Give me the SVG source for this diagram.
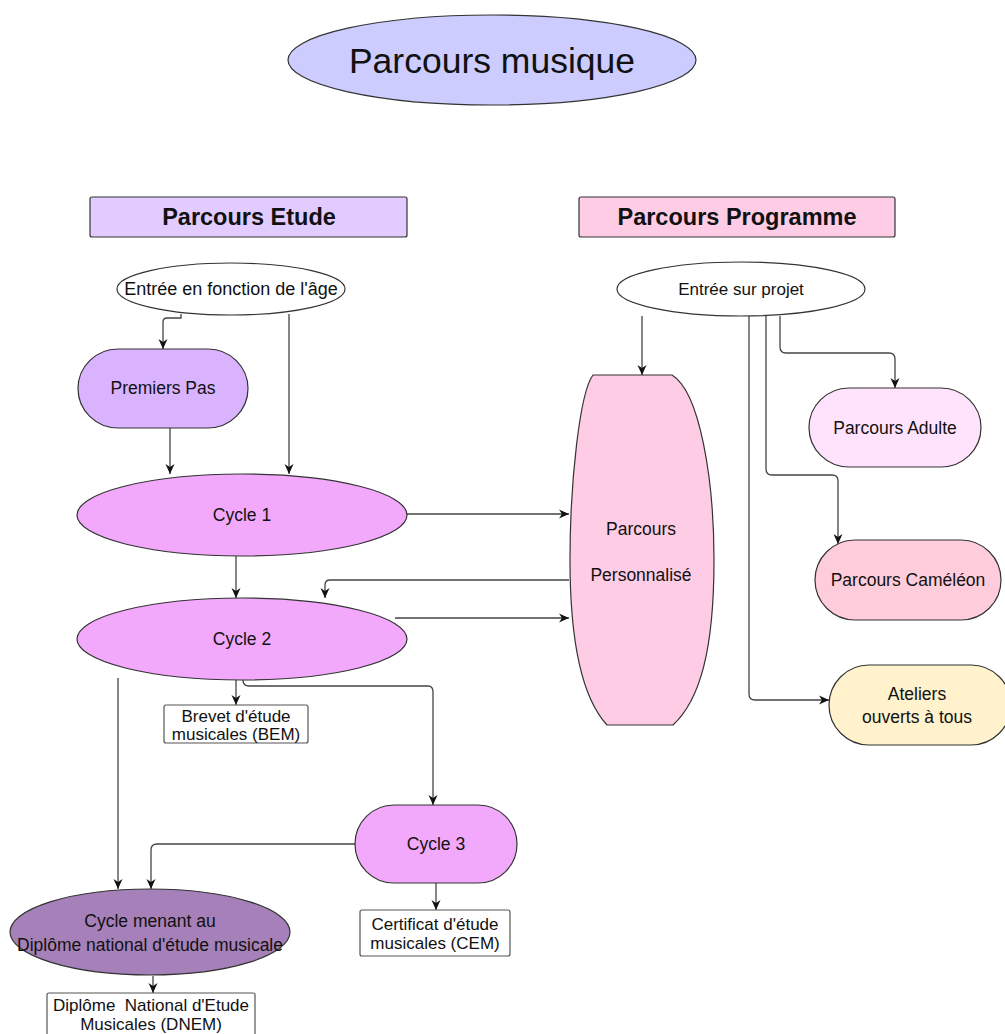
<svg xmlns="http://www.w3.org/2000/svg" width="1005" height="1034" viewBox="0 0 1005 1034">
<defs>
<marker id="ah" viewBox="0 0 10 10" refX="10" refY="5" markerWidth="10" markerHeight="10" markerUnits="userSpaceOnUse" orient="auto">
<path d="M0,0.5 L10,5 L0,9.5 L3,5 Z" fill="#111"/>
</marker>
<style>
text{font-family:"Liberation Sans",Arial,sans-serif;fill:#111;text-anchor:middle}
.n{stroke:#333;stroke-width:1.2}
.l{font-size:17.5px}
.s{font-size:17px}
.e{font-size:18px}
.h{font-size:23.5px;font-weight:bold}
.c{fill:none;stroke:#444;stroke-width:1.3;marker-end:url(#ah)}
.cyc{fill:#f2a9fc}
.box{fill:#fff;stroke:#555;stroke-width:1.2}
</style>
</defs>
<rect width="1005" height="1034" fill="#fff"/>

<g id="connectors">
<path class="c" d="M181,314 V318 H167 Q163,318 163,322 V349"/>
<path class="c" d="M289,314 V474"/>
<path class="c" d="M170,428 V474"/>
<path class="c" d="M236,556 V598"/>
<path class="c" d="M407,514 H569"/>
<path class="c" d="M569,580 H330 Q325,580 325,585 V598"/>
<path class="c" d="M395,618 H569"/>
<path class="c" d="M236,680 V705"/>
<path class="c" d="M243,680 Q243,686 249,686 H428 Q433,686 433,692 V805"/>
<path class="c" d="M118,678 V889"/>
<path class="c" d="M355,844 H157 Q151,844 151,850 V889"/>
<path class="c" d="M436,883 V910"/>
<path class="c" d="M153,976 V993"/>
<path class="c" d="M642,316 V375"/>
<path class="c" d="M749,316 V694 Q749,700 755,700 H829"/>
<path class="c" d="M766,316 V469 Q766,475 772,475 H832 Q838,475 838,481 V544"/>
<path class="c" d="M780,316 V347 Q780,353 786,353 H889 Q895,353 895,359 V388"/>
</g>

<g id="title">
<ellipse class="n" cx="492" cy="60" rx="204" ry="45" fill="#ccccff"/>
<text x="492" y="73" font-size="35.5">Parcours musique</text>
</g>

<g id="parcours-etude">
<rect class="n" x="90" y="197" width="317" height="40" rx="2" fill="#e2ccff"/>
<text class="h" x="249" y="225">Parcours Etude</text>
</g>

<g id="parcours-programme">
<rect class="n" x="579" y="197" width="316" height="40" rx="2" fill="#ffcce6"/>
<text class="h" x="737" y="225">Parcours Programme</text>
</g>

<g id="entree-age">
<ellipse class="n" cx="231" cy="289" rx="114" ry="26" fill="#fff"/>
<text class="e" x="231" y="295">Entrée en fonction de l'âge</text>
</g>

<g id="entree-projet">
<ellipse class="n" cx="741" cy="289" rx="124" ry="27" fill="#fff"/>
<text class="s" x="741" y="295">Entrée sur projet</text>
</g>

<g id="premiers-pas">
<rect class="n" x="78" y="349" width="170" height="79" rx="40" fill="#dab3ff"/>
<text class="l" x="163" y="394">Premiers Pas</text>
</g>

<g id="cycle1">
<ellipse class="n cyc" cx="242" cy="515" rx="165" ry="41"/>
<text class="l" x="242" y="521">Cycle 1</text>
</g>

<g id="cycle2">
<ellipse class="n cyc" cx="242" cy="639" rx="165" ry="41"/>
<text class="l" x="242" y="645">Cycle 2</text>
</g>

<g id="parcours-personnalise">
<path class="n" fill="#ffcce6" d="M593,375 L672,375 C700,392 714,480 714,560 C714,650 700,700 673,725 L607,725 C584,700 570,650 570,560 C570,480 580,392 593,375 Z"/>
<text class="l" x="641" y="535">Parcours</text>
<text class="l" x="641" y="581">Personnalisé</text>
</g>

<g id="parcours-adulte">
<rect class="n" x="809" y="388" width="172" height="79" rx="40" fill="#ffe3fc"/>
<text class="l" x="895" y="434">Parcours Adulte</text>
</g>

<g id="parcours-cameleon">
<rect class="n" x="815" y="540" width="186" height="80" rx="40" fill="#ffccdb"/>
<text class="l" x="908" y="586">Parcours Caméléon</text>
</g>

<g id="ateliers">
<rect class="n" x="829" y="665" width="182" height="80" rx="40" fill="#fff2cc"/>
<text class="l" x="917" y="700">Ateliers</text>
<text class="l" x="917" y="723">ouverts à tous</text>
</g>

<g id="bem">
<rect class="box" x="164" y="705" width="144" height="38" rx="2"/>
<text class="s" x="236" y="722">Brevet d'étude</text>
<text class="s" x="236" y="740">musicales (BEM)</text>
</g>

<g id="cycle3">
<rect class="n cyc" x="355" y="805" width="162" height="78" rx="39"/>
<text class="l" x="436" y="850">Cycle 3</text>
</g>

<g id="cem">
<rect class="box" x="360" y="910" width="150" height="46" rx="2"/>
<text class="s" x="435" y="930">Certificat d'étude</text>
<text class="s" x="435" y="949">musicales (CEM)</text>
</g>

<g id="cycle-dnem">
<ellipse class="n" cx="150" cy="932" rx="140" ry="43" fill="#a680b8"/>
<text class="l" x="150" y="927">Cycle menant au</text>
<text class="l" x="150" y="951">Diplôme national d'étude musicale</text>
</g>

<g id="dnem">
<rect class="box" x="47" y="993" width="208" height="46" rx="2"/>
<text class="s" x="151" y="1011" xml:space="preserve">Diplôme  National d'Etude</text>
<text class="s" x="151" y="1030">Musicales (DNEM)</text>
</g>
</svg>
